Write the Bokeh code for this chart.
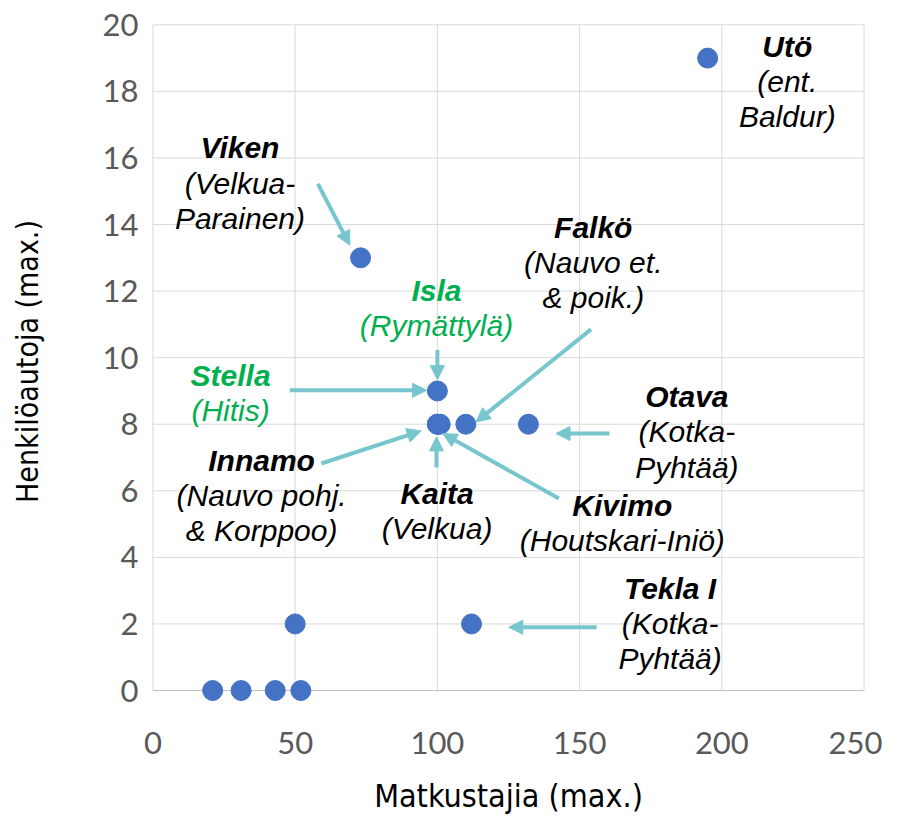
from bokeh.plotting import figure
from bokeh.models import Arrow, NormalHead, FixedTicker, Range1d, ColumnDataSource
from bokeh.core.properties import value
from bokeh.embed import file_html
from bokeh.resources import INLINE

# ---- data ----
matkustajia = [21, 31, 43, 52, 50, 112, 73, 100, 100, 100, 101, 110, 132, 195]
henkiloautoja = [0, 0, 0, 0, 2, 2, 13, 9, 8, 8, 8, 8, 8, 19]

xticks = [0, 50, 100, 150, 200, 250]
yticks = [0, 2, 4, 6, 8, 10, 12, 14, 16, 18, 20]

ann_name = ["Utö", "Viken", "Falkö", "Isla", "Stella", "Innamo", "Kaita", "Kivimo", "Otava", "Tekla I"]
ann_sub = ["(ent.\nBaldur)", "(Velkua-\nParainen)", "(Nauvo et.\n& poik.)", "(Rymättylä)", "(Hitis)",
           "(Nauvo pohj.\n& Korppoo)", "(Velkua)", "(Houtskari-Iniö)", "(Kotka-\nPyhtää)", "(Kotka-\nPyhtää)"]
ann_x = [223.0, 30.6, 154.8, 99.7, 27.3, 38.2, 99.9, 165.0, 187.7, 181.8]
ann_y = [19.34, 16.30, 13.92, 12.03, 9.47, 6.92, 5.91, 5.56, 8.82, 3.06]
ann_color = ["black", "black", "black", "#00B050", "#00B050", "black", "black", "black", "black", "black"]

arr_x0 = [58.0, 154.0, 100.0, 48.1, 59.2, 99.7, 142.7, 160.5, 156.0]
arr_y0 = [15.22, 10.85, 10.23, 9.02, 6.82, 6.70, 5.77, 7.72, 1.90]
arr_x1 = [69.2, 113.6, 100.0, 96.2, 94.3, 99.7, 101.9, 141.7, 125.1]
arr_y1 = [13.38, 8.07, 9.34, 9.02, 7.80, 7.62, 7.72, 7.72, 1.90]

LINE = 1.053  # line spacing in data units

p = figure(width=882, height=818,
           x_range=Range1d(-0.5, 250.5), y_range=Range1d(-0.33, 20.1),
           output_backend="svg", toolbar_location=None,
           min_border_left=151, min_border_right=17, min_border_top=21, min_border_bottom=117)
p.background_fill_color = "white"
p.border_fill_color = "white"
p.outline_line_color = None
p.xgrid.visible = False
p.ygrid.visible = False

# grid lines
p.segment(x0=xticks, y0=[0] * len(xticks), x1=xticks, y1=[20] * len(xticks),
          line_color="#d9d9d9", line_width=1)
p.segment(x0=[0] * len(yticks), y0=yticks, x1=[250] * len(yticks), y1=yticks,
          line_color=["#bfbfbf"] + ["#d9d9d9"] * (len(yticks) - 1), line_width=1)

LABEL_FONT = "'DejaVu Sans Condensed', 'Liberation Sans', sans-serif"

# axes
p.xaxis.ticker = FixedTicker(ticks=xticks)
p.yaxis.ticker = FixedTicker(ticks=yticks)
for ax in (p.xaxis, p.yaxis):
    ax.axis_line_color = None
    ax.major_tick_line_color = None
    ax.minor_tick_line_color = None
    ax.major_label_text_font = "Lato"
    ax.major_label_text_font_size = "31px"
    ax.major_label_text_color = "#595959"
    ax.axis_label_text_font = LABEL_FONT
    ax.axis_label_text_font_style = "normal"
    ax.axis_label_text_color = "#000000"
p.xaxis.axis_label_text_font_size = "32px"
p.yaxis.axis_label_text_font_size = "30px"
p.xaxis.axis_label = "Matkustajia (max.)"
p.yaxis.axis_label = "Henkilöautoja (max.)"
p.xaxis.major_label_standoff = 24
p.xaxis.axis_label_standoff = 20
p.yaxis.major_label_standoff = 7
p.yaxis.axis_label_standoff = 55

# arrows
for x0, y0, x1, y1 in zip(arr_x0, arr_y0, arr_x1, arr_y1):
    p.add_layout(Arrow(end=NormalHead(size=14, fill_color="#77C6CE", line_color="#77C6CE", line_width=1),
                       x_start=x0, y_start=y0, x_end=x1, y_end=y1,
                       line_color="#77C6CE", line_width=4))

# points
p.scatter(matkustajia, henkiloautoja, size=20, fill_color="#4472C4", line_color="#4472C4")

# annotation texts
sub_x, sub_y, sub_t, sub_c = [], [], [], []
for x, y, s, c in zip(ann_x, ann_y, ann_sub, ann_color):
    for i, line in enumerate(s.split("\n")):
        sub_x.append(x)
        sub_y.append(y - (i + 1) * LINE)
        sub_t.append(line)
        sub_c.append(c)

title_src = ColumnDataSource(dict(x=ann_x, y=ann_y, t=ann_name, c=ann_color))
sub_src = ColumnDataSource(dict(x=sub_x, y=sub_y, t=sub_t, c=sub_c))
p.text(x="x", y="y", text="t", text_color="c", source=title_src,
       text_align="center", text_baseline="alphabetic",
       text_font=value("Liberation Sans"), text_font_style="bold italic", text_font_size="30px")
p.text(x="x", y="y", text="t", text_color="c", source=sub_src,
       text_align="center", text_baseline="alphabetic",
       text_font=value("Liberation Sans"), text_font_style="italic", text_font_size="30px")

open("out.html", "w").write(file_html(p, INLINE))
